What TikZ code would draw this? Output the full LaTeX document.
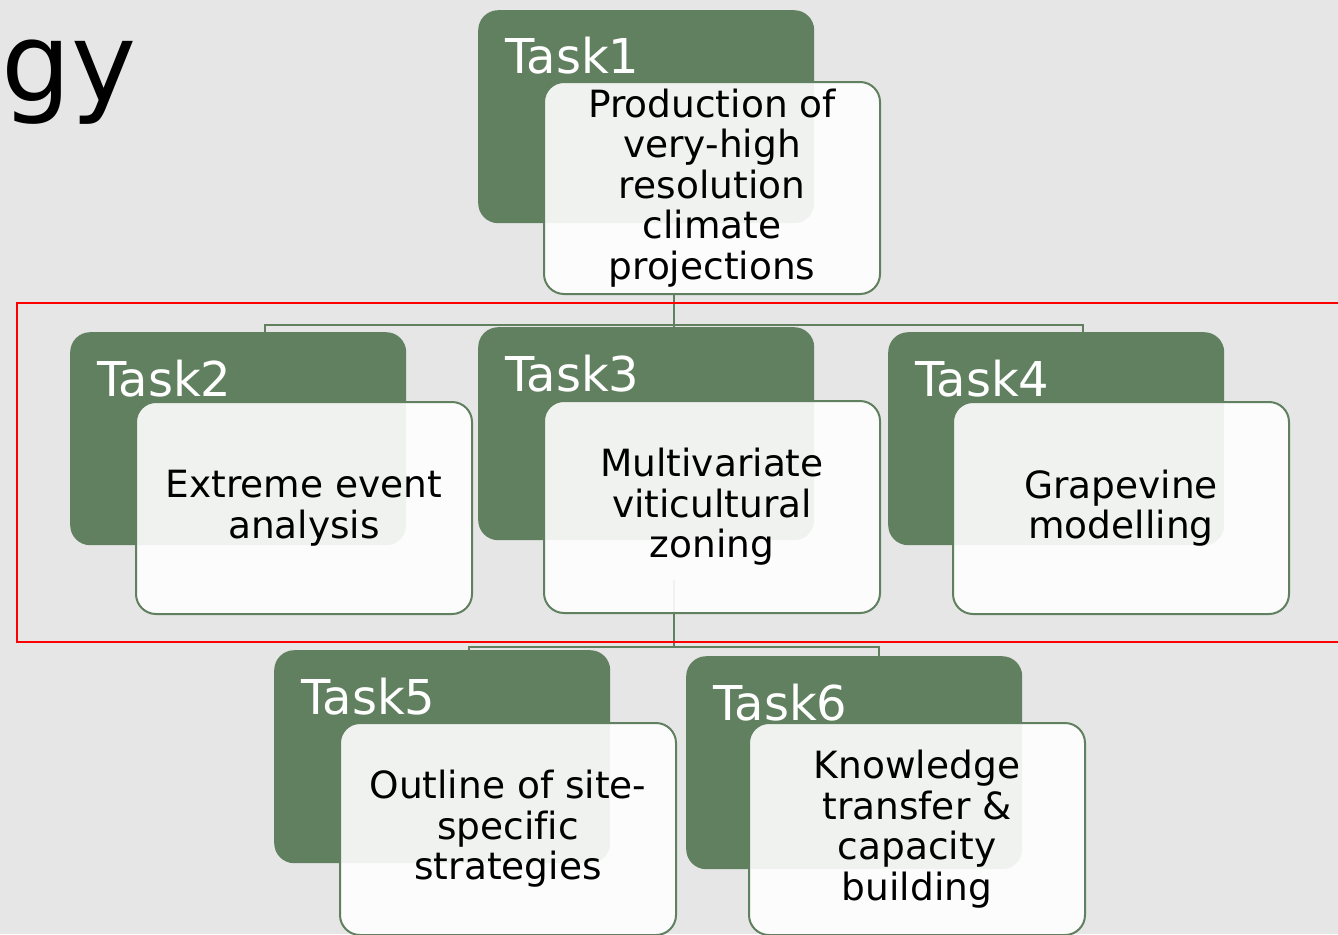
\documentclass[tikz,border=0pt]{standalone}
\usepackage{fontspec}
\setmainfont{DejaVu Sans}[Ligatures=NoCommon]
\definecolor{leaf}{RGB}{97,128,96}
\definecolor{paper}{RGB}{230,230,230}
\pgfdeclarelayer{back}
\pgfsetlayers{back,main}
\tikzset{
  taskbox/.style={fill=leaf, rounded corners=20pt, minimum width=336pt,
    minimum height=213pt, inner sep=0pt, anchor=north west},
  descbox/.style={draw=leaf, line width=2pt, fill=white, fill opacity=0.9,
    text opacity=1, rounded corners=20pt, minimum width=336pt,
    minimum height=212pt, inner sep=0pt, anchor=north west, align=center,
    font=\fontsize{37.5}{40.5}\selectfont},
  tasklabel/.style={text=white, anchor=base west, inner sep=0pt,
    font=\fontsize{48}{50}\selectfont},
  link/.style={draw=leaf, line width=2.5pt},
}
\begin{document}
\begin{tikzpicture}[x=1pt, y=-1pt]
  \useasboundingbox (0,0) rectangle (1338,934);
  % title remainder
  \node[anchor=base east, inner sep=0pt, font=\fontsize{110}{116}\selectfont]
    (title) at (137,101) {gy};
  % green task boxes with their labels
  \foreach \i/\x/\y in {1/478/10, 2/70/332, 3/478/327, 4/888/332, 5/274/650, 6/686/656} {
    \node[taskbox] (g\i) at (\x,\y) {};
    \node[tasklabel] (l\i) at (\x+27,\y+64) {Task\i};
  }
  % descriptions
  \node[descbox] (w1) at (543,81) {Production of\\very-high\\resolution\\climate\\projections};
  \node[descbox] (w2) at (135,401) {Extreme event\\analysis};
  \node[descbox] (w3) at (543,400) {Multivariate\\viticultural\\zoning};
  \node[descbox] (w4) at (952,401) {Grapevine\\modelling};
  \node[descbox] (w5) at (339,722) {Outline of site-\\specific\\strategies};
  \node[descbox] (w6) at (748,722) {Knowledge\\transfer \&\\capacity\\building};
  % joints of the tree
  \coordinate (bus1) at (674,325);
  \coordinate (d2) at (265,325);
  \coordinate (d4) at (1083,325);
  \coordinate (c3) at (674,580);
  \coordinate (bus2) at (674,647);
  \coordinate (d5) at (469,647);
  \coordinate (d6) at (879,647);
  \begin{pgfonlayer}{back}
    \fill[paper] (0,0) rectangle (1338,934);
    \draw[link] (w1.south -| bus1) -- (bus1);
    \draw[link] (d2 |- g2.north) -- (d2) -- (d4) -- (d4 |- g4.north);
    \draw[link] (bus1) -- (bus1 |- g3.north);
    \draw[link] (c3) -- (bus2);
    \draw[link] (d5 |- g5.north) -- (d5) -- (d6) -- (d6 |- g6.north);
  \end{pgfonlayer}
  % highlight frame
  \draw[red, line width=2.5pt] (17,303) rectangle (1350,642);
\end{tikzpicture}
\end{document}
